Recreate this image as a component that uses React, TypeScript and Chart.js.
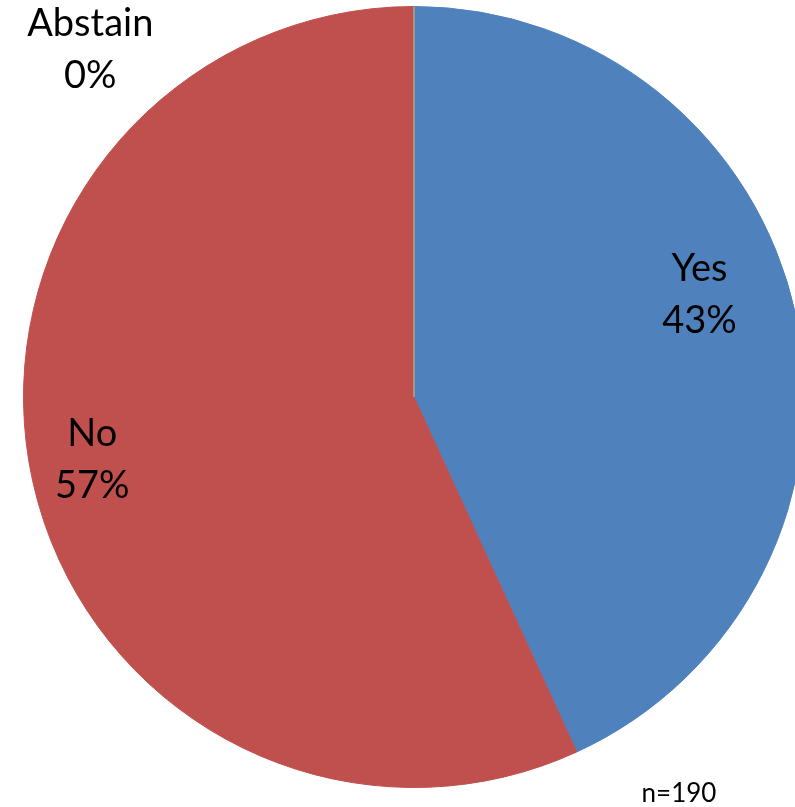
import React, { useEffect, useRef } from "react";
import { Chart, registerables } from "chart.js";

Chart.register(...registerables);

const categories = ["Yes", "No", "Abstain"];
const counts = [82, 108, 0];
const colors = ["#4F81BD", "#C0504D", "#9BBB59"];
const sampleNote = "n=190";

const FONT = "Lato, 'Open Sans', sans-serif";

// label block centres, as fractions of the radius from the pie centre
const labelOffsets = [
  [0.731, -0.261],
  [-0.824, 0.161],
  [-0.829, -0.89],
];

const labelPlugin = {
  id: "pieLabels",
  afterDatasetsDraw(chart: any) {
    const ctx = chart.ctx;
    const meta = chart.getDatasetMeta(0);
    const total = counts.reduce((a, b) => a + b, 0);
    const first = meta.data[0];
    const cx = first.x;
    const cy = first.y;
    const r = first.outerRadius;

    // zero-size slice drawn as a thin line
    meta.data.forEach((arc: any, i: number) => {
      if (counts[i] === 0) {
        ctx.save();
        ctx.strokeStyle = "#a3ab9a";
        ctx.lineWidth = 1.5;
        ctx.beginPath();
        ctx.moveTo(cx, cy);
        ctx.lineTo(cx + r * Math.cos(arc.startAngle), cy + r * Math.sin(arc.startAngle));
        ctx.stroke();
        ctx.restore();
      }
    });

    ctx.save();
    ctx.fillStyle = "#000";
    ctx.textAlign = "center";
    ctx.textBaseline = "middle";
    ctx.font = `38px ${FONT}`;
    categories.forEach((c, i) => {
      const pct = Math.round((counts[i] / total) * 100) + "%";
      const x = cx + labelOffsets[i][0] * r;
      const y = cy + labelOffsets[i][1] * r;
      ctx.fillText(c, x, y - 26);
      ctx.fillText(pct, x, y + 26);
    });
    ctx.font = `26px ${FONT}`;
    ctx.textBaseline = "alphabetic";
    ctx.fillText(sampleNote, 679, 802);
    ctx.restore();
  },
};

export default function App() {
  const ref = useRef<HTMLCanvasElement>(null);
  useEffect(() => {
    document.body.style.margin = "0";
    document.body.style.overflow = "hidden";
    const chart = new Chart(ref.current!, {
      type: "pie",
      data: {
        labels: categories,
        datasets: [
          {
            data: counts,
            backgroundColor: colors,
            borderColor: colors,
            borderWidth: 1,
          },
        ],
      },
      options: {
        responsive: false,
        animation: false,
        layout: { padding: { top: 6, bottom: 19, left: 23, right: 23 } },
        plugins: { legend: { display: false }, tooltip: { enabled: false } },
      },
      plugins: [labelPlugin],
    });
    return () => chart.destroy();
  }, []);
  return (
    <div style={{ position: "fixed", left: 0, top: 0, width: 795, height: 807, overflow: "hidden", background: "#fff" }}>
      <canvas ref={ref} width={828} height={807} style={{ width: 828, height: 807, display: "block" }} />
    </div>
  );
}
